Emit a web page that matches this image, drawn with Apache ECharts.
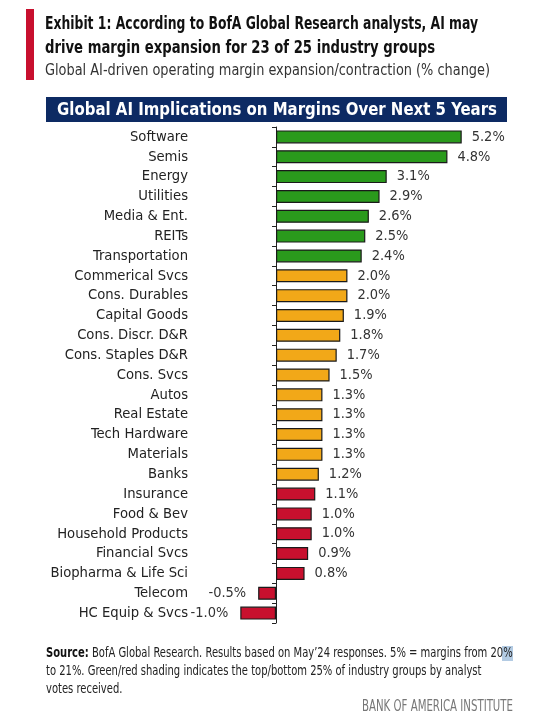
<!DOCTYPE html>
<html>
<head>
<meta charset="utf-8">
<script src="https://cdn.jsdelivr.net/npm/echarts@6/dist/echarts.min.js"></script>
<style>
html,body{margin:0;padding:0;background:#fff;}
#chart{width:560px;height:723px;}
</style>
</head>
<body>
<div id="chart"></div>
<script>
// ---- Data ----
var categories = ["Software","Semis","Energy","Utilities","Media & Ent.","REITs","Transportation",
  "Commerical Svcs","Cons. Durables","Capital Goods","Cons. Discr. D&R","Cons. Staples D&R","Cons. Svcs",
  "Autos","Real Estate","Tech Hardware","Materials","Banks",
  "Insurance","Food & Bev","Household Products","Financial Svcs","Biopharma & Life Sci","Telecom","HC Equip & Svcs"];
var values = [5.2,4.8,3.1,2.9,2.6,2.5,2.4,2.0,2.0,1.9,1.8,1.7,1.5,1.3,1.3,1.3,1.3,1.2,1.1,1.0,1.0,0.9,0.8,-0.5,-1.0];
var tiers = ["top","top","top","top","top","top","top",
  "mid","mid","mid","mid","mid","mid","mid","mid","mid","mid","mid",
  "bottom","bottom","bottom","bottom","bottom","bottom","bottom"];
var titleLine1 = "Exhibit 1: According to BofA Global Research analysts, AI may";
var titleLine2 = "drive margin expansion for 23 of 25 industry groups";
var subtitle = "Global AI-driven operating margin expansion/contraction (% change)";
var bannerText = "Global AI Implications on Margins Over Next 5 Years";
var footerLead = "Source:";
var footer1 = "BofA Global Research. Results based on May\u201924 responses. 5% = margins from 20%";
var footer2 = "to 21%. Green/red shading indicates the top/bottom 25% of industry groups by analyst";
var footer3 = "votes received.";
var brand = "BANK OF AMERICA INSTITUTE";

// ---- Styles ----
var tierColor = {top:"#2A9A1C", mid:"#F2A818", bottom:"#C8102E"};
var narrow = "'DejaVu Sans Condensed','Liberation Sans Narrow',Lato,sans-serif";

var ctx = document.createElement('canvas').getContext('2d');
function measure(text, size, weight, family){
  ctx.font = (weight||'normal') + ' ' + size + 'px ' + family;
  return ctx.measureText(text).width;
}
function fit(text, size, weight, family, target){
  return target / measure(text, size, weight, family);
}
// font sizes fitted to reference widths
var labelSize = 17 * 131 / measure("Household Products", 17, 'normal', narrow);
var valueSize = 17 * 33 / measure("0.8%", 17, 'normal', narrow);

var barData = values.map(function(v,i){
  return {
    value: v,
    itemStyle: {color: tierColor[tiers[i]]},
    label: {position: v < 0 ? 'left' : 'right', distance: v < 0 ? 12 : 10}
  };
});

var f1w = measure(footerLead + ' ', 14, 'bold', narrow) + measure(footer1, 14, 'normal', narrow);
var fScale = 467 / f1w;

var chart = echarts.init(document.getElementById('chart'), null, {renderer:'canvas'});
chart.setOption({
  animation:false,
  backgroundColor:'#fff',
  grid:{left:240.3, right:69.7, top:127, bottom:100, containLabel:false},
  xAxis:{type:'value', min:-1, max:6, show:false},
  yAxis:{
    type:'category', data:categories, inverse:true,
    axisLine:{show:true, onZero:true, lineStyle:{color:'#222', width:1}},
    axisTick:{show:true, length:4, lineStyle:{color:'#222'}},
    axisLabel:{interval:0, margin:52.3, fontFamily:narrow, fontSize:labelSize, color:'#222'},
    splitLine:{show:false}
  },
  series:[{
    type:'bar', data:barData, barWidth:13,
    itemStyle:{borderColor:'#1a1a1a', borderWidth:1.2},
    label:{show:true, fontFamily:narrow, fontSize:valueSize, color:'#333',
      formatter:function(p){return p.value.toFixed(1)+'%';}}
  }],
  graphic:[
    {type:'rect', left:26, top:9, shape:{width:8, height:71}, style:{fill:'#C8102E'}},
    {type:'text', x:45, y:24, scaleX:fit(titleLine1,18,'bold',narrow,433),
      style:{text:titleLine1, fontFamily:narrow, fontWeight:'bold', fontSize:18, fill:'#111', textVerticalAlign:'middle'}},
    {type:'text', x:45, y:48, scaleX:fit(titleLine2,18,'bold',narrow,390),
      style:{text:titleLine2, fontFamily:narrow, fontWeight:'bold', fontSize:18, fill:'#111', textVerticalAlign:'middle'}},
    {type:'text', x:45, y:71, scaleX:fit(subtitle,16,'normal',narrow,445),
      style:{text:subtitle, fontFamily:narrow, fontSize:16, fill:'#333', textVerticalAlign:'middle'}},
    {type:'rect', left:46, top:97, shape:{width:461, height:25}, style:{fill:'#0D2A63'}},
    {type:'text', x:277, y:110, scaleX:fit(bannerText,18,'bold',narrow,440),
      style:{text:bannerText, fontFamily:narrow, fontWeight:'bold', fontSize:18, fill:'#fff', textAlign:'center', textVerticalAlign:'middle'}},
    {type:'rect', left:502, top:646, shape:{width:11, height:15}, style:{fill:'#B3CBE3'}},
    {type:'text', x:46, y:653, scaleX:fScale,
      style:{text:'{b|'+footerLead+'} '+footer1, fontFamily:narrow, fontSize:14, fill:'#222', textVerticalAlign:'middle',
      rich:{b:{fontWeight:'bold', fontFamily:narrow, fontSize:14, fill:'#111'}}}},
    {type:'text', x:46, y:671, scaleX:fScale, style:{text:footer2, fontFamily:narrow, fontSize:14, fill:'#222', textVerticalAlign:'middle'}},
    {type:'text', x:46, y:689, scaleX:fScale, style:{text:footer3, fontFamily:narrow, fontSize:14, fill:'#222', textVerticalAlign:'middle'}},
    {type:'text', x:513, y:707, scaleX:fit(brand,15,'normal',narrow,151),
      style:{text:brand, fontFamily:narrow, fontSize:15, fill:'#777', textAlign:'right', textVerticalAlign:'middle'}}
  ]
});
</script>
</body>
</html>
